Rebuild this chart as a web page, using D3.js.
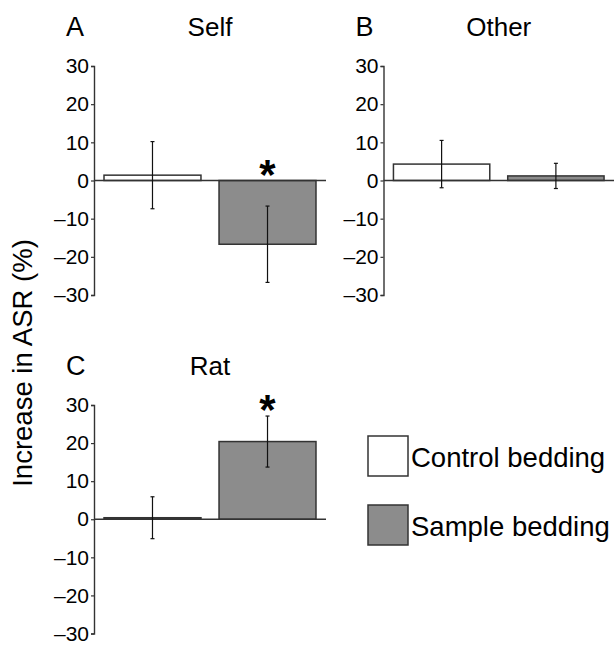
<!DOCTYPE html>
<html>
<head>
<meta charset="utf-8">
<script src="https://cdn.jsdelivr.net/npm/d3@7"></script>
<style>
  body { margin: 0; background: #fff; }
  svg { font-family: "Liberation Sans", Arial, Helvetica, sans-serif; }
</style>
</head>
<body>
<div id="chart"></div>
<script>
  // Data
  const panelLetters = ["A", "B", "C"];
  const panelTitles = ["Self", "Other", "Rat"];
  const groups = ["Control bedding", "Sample bedding"];
  const controlMean = [1.4, 4.3, 0.4];
  const controlSem = [8.8, 6.2, 5.5];
  const sampleMean = [-16.7, 1.2, 20.4];
  const sampleSem = [10.0, 3.3, 6.7];
  const sampleSignificant = [true, false, true];
  const yTicks = [-30, -20, -10, 0, 10, 20, 30];

  // Layout of the three panels (pixel boxes of the plot areas)
  const panelBoxes = [
    { x0: 94, x1: 326, y0: 66, y1: 295 },
    { x0: 383.5, x1: 614, y0: 66, y1: 295 },
    { x0: 94, x1: 326, y0: 405, y1: 633.5 }
  ];

  const width = 614, height = 646;
  const fills = ["#ffffff", "#8c8c8c"];
  const edge = "#333";

  const svg = d3.select("#chart")
      .append("svg")
      .attr("width", width)
      .attr("height", height);

  const fmt = d => d < 0 ? "\u2013" + Math.abs(d) : String(d);

  panelLetters.forEach((letter, i) => {
    const box = panelBoxes[i];
    const data = [
      { group: groups[0], mean: controlMean[i], sem: controlSem[i], sig: false },
      { group: groups[1], mean: sampleMean[i], sem: sampleSem[i], sig: sampleSignificant[i] }
    ];

    const x = d3.scaleBand()
        .domain(groups)
        .range([box.x0, box.x1])
        .paddingInner(0.157)
        .paddingOuter(0.087);

    const y = d3.scaleLinear()
        .domain([-30, 30])
        .range([box.y1, box.y0]);

    const g = svg.append("g");

    // Bars
    g.selectAll(".bar")
        .data(data)
        .enter().append("rect")
        .attr("class", "bar")
        .attr("x", d => x(d.group))
        .attr("width", x.bandwidth())
        .attr("y", d => y(Math.max(0, d.mean)))
        .attr("height", d => Math.abs(y(d.mean) - y(0)))
        .attr("fill", (d, j) => fills[j])
        .attr("stroke", edge)
        .attr("stroke-width", 1.5);

    // Zero line
    g.append("line")
        .attr("x1", box.x0)
        .attr("x2", box.x1)
        .attr("y1", y(0))
        .attr("y2", y(0))
        .attr("stroke", edge)
        .attr("stroke-width", 1.4);

    // Error bars
    const cx = d => x(d.group) + x.bandwidth() / 2;
    const err = g.selectAll(".err")
        .data(data)
        .enter().append("g")
        .attr("class", "err")
        .attr("stroke", "#111")
        .attr("stroke-width", 1.2);
    err.append("line")
        .attr("x1", cx).attr("x2", cx)
        .attr("y1", d => y(d.mean - d.sem))
        .attr("y2", d => y(d.mean + d.sem));
    err.append("line")
        .attr("x1", d => cx(d) - 2).attr("x2", d => cx(d) + 2)
        .attr("y1", d => y(d.mean + d.sem))
        .attr("y2", d => y(d.mean + d.sem));
    err.append("line")
        .attr("x1", d => cx(d) - 2).attr("x2", d => cx(d) + 2)
        .attr("y1", d => y(d.mean - d.sem))
        .attr("y2", d => y(d.mean - d.sem));

    // Significance stars
    g.selectAll(".star")
        .data(data.filter(d => d.sig))
        .enter().append("text")
        .attr("class", "star")
        .attr("x", cx)
        .attr("y", d => y(Math.max(0, d.mean + d.sem)) + 8)
        .attr("text-anchor", "middle")
        .style("font-size", "42px")
        .style("font-weight", "bold")
        .text("*");

    // Y axis
    const axis = g.append("g")
        .attr("transform", `translate(${box.x0}, 0)`)
        .call(d3.axisLeft(y).tickValues(yTicks).tickFormat(fmt).tickSize(3).tickPadding(2));
    axis.select(".domain").attr("stroke", edge).attr("stroke-width", 1.4);
    axis.selectAll(".tick line").attr("stroke", edge).attr("stroke-width", 1.2);
    axis.selectAll(".tick text")
        .attr("fill", "#000")
        .style("font-size", "21px")
        .style("font-family", "'Liberation Sans', Arial, sans-serif");

    // Panel letter and title
    g.append("text")
        .attr("x", box.x0 - 28)
        .attr("y", box.y0 - 30)
        .style("font-size", "27px")
        .text(letter);
    g.append("text")
        .attr("x", (box.x0 + box.x1) / 2)
        .attr("y", box.y0 - 30)
        .attr("text-anchor", "middle")
        .style("font-size", "26px")
        .text(panelTitles[i]);
  });

  // Y axis label
  svg.append("text")
      .attr("transform", "translate(32, 363) rotate(-90)")
      .attr("text-anchor", "middle")
      .style("font-size", "27.5px")
      .text("Increase in ASR (%)");

  // Legend
  const legend = svg.selectAll(".legend")
      .data(groups)
      .enter().append("g")
      .attr("class", "legend")
      .attr("transform", (d, i) => `translate(368, ${436 + i * 69})`);

  legend.append("rect")
      .attr("width", 40)
      .attr("height", 40)
      .attr("fill", (d, i) => fills[i])
      .attr("stroke", edge)
      .attr("stroke-width", 1.5);

  legend.append("text")
      .attr("x", 43)
      .attr("y", 30.5)
      .style("font-size", "27.5px")
      .text(d => d);
</script>
</body>
</html>
